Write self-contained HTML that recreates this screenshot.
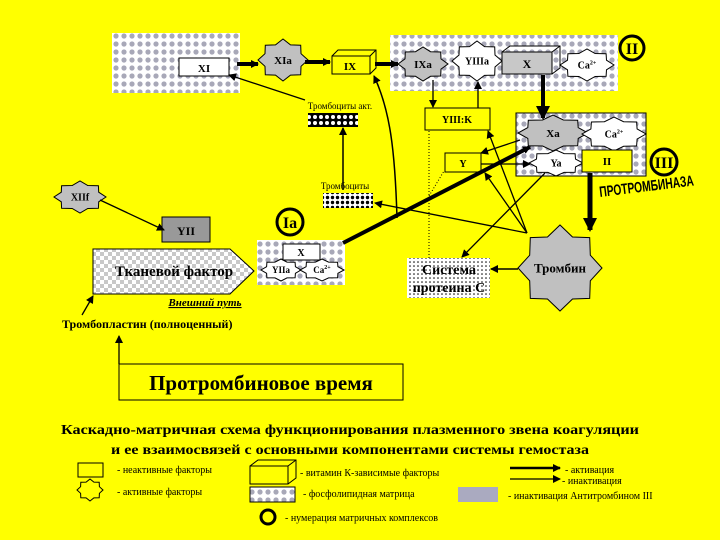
<!DOCTYPE html>
<html><head><meta charset="utf-8"><style>
html,body{margin:0;padding:0;background:#ffff00;}
svg{display:block;font-family:"Liberation Serif",serif;}
</style></head><body>
<svg id="s" width="720" height="540" viewBox="0 0 720 540" xmlns="http://www.w3.org/2000/svg">
<defs>
<pattern id="dots" width="8" height="8" patternUnits="userSpaceOnUse"><rect width="8" height="8" fill="#fff"/><circle cx="4" cy="4" r="2.6" fill="#a8a8b8"/></pattern>
<pattern id="dark" width="6" height="6" patternUnits="userSpaceOnUse"><rect width="6" height="6" fill="#000"/><circle cx="3" cy="3" r="2" fill="#fff"/></pattern>
<pattern id="dark2" width="5" height="5" patternUnits="userSpaceOnUse"><rect width="5" height="5" fill="#fff"/><circle cx="2.5" cy="2.5" r="1.7" fill="#000"/></pattern>
<pattern id="chk" width="8" height="8" patternUnits="userSpaceOnUse"><rect width="8" height="8" fill="#fff"/><rect width="4" height="4" fill="#c8c8c8"/><rect x="4" y="4" width="4" height="4" fill="#c8c8c8"/></pattern>
<pattern id="sdot" width="4" height="4" patternUnits="userSpaceOnUse"><rect width="4" height="4" fill="#fff"/><circle cx="2" cy="2" r="0.8" fill="#000"/></pattern>
<marker id="a" markerWidth="8" markerHeight="8" refX="7" refY="4" orient="auto" markerUnits="userSpaceOnUse"><path d="M0,0 L8,4 L0,8z" fill="#000"/></marker>
<marker id="A" markerWidth="14" markerHeight="14" refX="12" refY="7" orient="auto" markerUnits="userSpaceOnUse"><path d="M0,0 L14,7 L0,14z" fill="#000"/></marker>
</defs>
<rect width="720" height="540" fill="#ffff00"/>

<!-- matrices -->
<rect x="112" y="33" width="128" height="60" fill="url(#dots)"/>
<rect x="390" y="35" width="228" height="56" fill="url(#dots)"/>
<rect x="516" y="113" width="130" height="63" fill="url(#dots)" stroke="#000"/>
<rect x="257" y="240" width="88" height="45" fill="url(#dots)"/>

<g id="stars"></g>

<!-- boxes -->
<rect x="179" y="58" width="50" height="18" fill="#fff" stroke="#000"/>
<text x="204" y="72" text-anchor="middle" font-size="11" font-weight="bold">XI</text>
<!-- IX 3D -->
<g fill="none" stroke="#000">
<rect x="332" y="56" width="38" height="18" fill="#ffff00"/><path d="M332,56 l6,-6 h38 v18 l-6,6 M370,56 l6,-6"/>
</g>
<text x="350" y="70" text-anchor="middle" font-size="11" font-weight="bold">IX</text>
<!-- X 3D -->
<g fill="none" stroke="#000">
<rect x="502" y="52" width="50" height="22" fill="#c8c8c8"/><path d="M502,52 l8,-6 h50 v22 l-8,6 M552,52 l8,-6"/>
</g>
<text x="527" y="68" text-anchor="middle" font-size="12" font-weight="bold">X</text>

<circle cx="632" cy="48" r="12" fill="none" stroke="#000" stroke-width="3"/>
<text x="632" y="54" text-anchor="middle" font-size="16" font-weight="bold">II</text>

<text x="340" y="109" text-anchor="middle" font-size="9">Тромбоциты акт.</text>
<rect x="308" y="113" width="50" height="14" fill="url(#dark)"/>
<text x="345" y="189" text-anchor="middle" font-size="9">Тромбоциты</text>
<rect x="323" y="193" width="50" height="15" fill="url(#dark2)"/>

<rect x="425" y="108" width="65" height="22" fill="#ffff00" stroke="#000"/>
<text x="457" y="123" text-anchor="middle" font-size="10" font-weight="bold">YIII:K</text>
<rect x="445" y="153" width="36" height="19" fill="#ffff00" stroke="#000"/>
<text x="463" y="167" text-anchor="middle" font-size="10" font-weight="bold">Y</text>

<rect x="582" y="150" width="50" height="22" fill="#ffff00" stroke="#000"/>
<text x="607" y="165" text-anchor="middle" font-size="11" font-weight="bold">II</text>
<circle cx="664" cy="162" r="13" fill="none" stroke="#000" stroke-width="3"/>
<text x="664" y="168" text-anchor="middle" font-size="16" font-weight="bold">III</text>
<text x="600" y="197" font-family="Liberation Sans,sans-serif" font-size="15" font-weight="bold" transform="rotate(-7 600 197)" textLength="95" lengthAdjust="spacingAndGlyphs">ПРОТРОМБИНАЗА</text>

<rect x="162" y="217" width="48" height="25" fill="#999" stroke="#000"/>
<text x="186" y="235" text-anchor="middle" font-size="12" font-weight="bold">YII</text>
<circle cx="290" cy="222" r="13" fill="none" stroke="#000" stroke-width="3"/>
<text x="290" y="228" text-anchor="middle" font-size="16" font-weight="bold">Ia</text>
<rect x="283" y="244" width="37" height="16" fill="#fff" stroke="#000"/>
<text x="301" y="256" text-anchor="middle" font-size="10" font-weight="bold">X</text>

<path d="M93,249 H230 L254,271 L230,294 H93z" fill="url(#chk)" stroke="#000"/>
<text x="174" y="276" text-anchor="middle" font-size="15" font-weight="bold">Тканевой фактор</text>
<text x="205" y="306" text-anchor="middle" font-size="11" font-weight="bold" font-style="italic" text-decoration="underline">Внешний путь</text>
<text x="62" y="328" font-size="12" font-weight="bold">Тромбопластин (полноценный)</text>

<rect x="407" y="258" width="83" height="40" fill="url(#sdot)"/>
<text x="449" y="274" text-anchor="middle" font-size="14" font-weight="bold">Система</text>
<text x="449" y="292" text-anchor="middle" font-size="14" font-weight="bold">протеина С</text>

<rect x="119" y="364" width="284" height="36" fill="#ffff00" stroke="#000"/>
<text x="261" y="390" text-anchor="middle" font-size="21" font-weight="bold">Протромбиновое время</text>

<!-- connectors -->
<g stroke="#000" fill="none">
<line x1="237" y1="64" x2="258" y2="64" stroke-width="4" marker-end="url(#a)"/>
<line x1="305" y1="62" x2="330" y2="62" stroke-width="4" marker-end="url(#a)"/>
<line x1="375" y1="64" x2="398" y2="64" stroke-width="4" marker-end="url(#a)"/>
<line x1="305" y1="100" x2="229" y2="75" stroke-width="1.3" marker-end="url(#a)"/>
<line x1="343" y1="190" x2="343" y2="128" stroke-width="1.5" marker-end="url(#a)"/>
<path d="M397,218 C395,150 390,110 374,76" stroke-width="1.5" marker-end="url(#a)"/>
<line x1="433" y1="80" x2="433" y2="107" stroke-width="1.3" marker-end="url(#a)"/>
<line x1="478" y1="108" x2="478" y2="82" stroke-width="1.3" marker-end="url(#a)"/>
<line x1="543" y1="75" x2="543" y2="118" stroke-width="4" marker-end="url(#A)"/>
<line x1="520" y1="140" x2="481" y2="153" stroke-width="1.3" marker-end="url(#a)"/>
<line x1="481" y1="164" x2="530" y2="164" stroke-width="1.3" marker-end="url(#a)"/>
<line x1="545" y1="173" x2="462" y2="257" stroke-width="1.3" marker-end="url(#a)"/>
<line x1="527" y1="233" x2="488" y2="131" stroke-width="1.3" marker-end="url(#a)"/>
<line x1="527" y1="233" x2="485" y2="173" stroke-width="1.3" marker-end="url(#a)"/>
<line x1="527" y1="233" x2="375" y2="203" stroke-width="1.3" marker-end="url(#a)"/>
<line x1="518" y1="269" x2="491" y2="269" stroke-width="1.5" marker-end="url(#a)"/>
<line x1="343" y1="243" x2="530" y2="147" stroke-width="4" marker-end="url(#a)"/>
<line x1="590" y1="173" x2="590" y2="230" stroke-width="5" marker-end="url(#A)"/>
<path d="M429,258 V131 M429,196 L444,171" stroke-width="1" stroke-dasharray="1,2"/>
<line x1="100" y1="200" x2="164" y2="230" stroke-width="1.3" marker-end="url(#a)"/>
<line x1="82" y1="315" x2="93" y2="296" stroke-width="1.3" marker-end="url(#a)"/>
<line x1="119" y1="364" x2="119" y2="336" stroke-width="1.3" marker-end="url(#a)"/>
</g>

<!-- titles -->
<text x="350" y="434" text-anchor="middle" font-size="14" font-weight="bold" textLength="578" lengthAdjust="spacingAndGlyphs">Каскадно-матричная схема функционирования плазменного звена коагуляции</text>
<text x="350" y="454" text-anchor="middle" font-size="14" font-weight="bold" textLength="478" lengthAdjust="spacingAndGlyphs">и ее взаимосвязей с основными компонентами системы гемостаза</text>

<!-- legend -->
<rect x="78" y="463" width="25" height="14" fill="#ffff00" stroke="#000"/>
<text x="117" y="473" font-size="10">- неактивные факторы</text>
<text x="117" y="495" font-size="10">- активные факторы</text>
<g fill="none" stroke="#000"><rect x="250" y="466" width="38" height="18"/><path d="M250,466 l8,-6 h38 v18 l-8,6 M288,466 l8,-6"/></g>
<text x="300" y="476" font-size="10">- витамин К-зависимые факторы</text>
<rect x="250" y="487" width="45" height="15" fill="url(#dots)" stroke="#000"/>
<text x="303" y="497" font-size="10">- фосфолипидная матрица</text>
<rect x="458" y="487" width="40" height="15" fill="#aaaac0"/>
<g stroke="#000"><line x1="510" y1="468" x2="560" y2="468" stroke-width="2.5" marker-end="url(#a)"/><line x1="510" y1="479" x2="560" y2="479" stroke-width="1.3" marker-end="url(#a)"/></g>
<text x="565" y="473" font-size="10">- активация</text>
<text x="562" y="484" font-size="10">- инактивация</text>
<text x="508" y="499" font-size="10">- инактивация Антитромбином III</text>
<circle cx="268" cy="517" r="7" fill="none" stroke="#000" stroke-width="3"/>
<text x="285" y="521" font-size="10">- нумерация матричных комплексов</text>
</svg>
<script>
(function(){
var g=document.getElementById('stars'),NS='http://www.w3.org/2000/svg';
function star(cx,cy,rx,ry,fill,label,fs,tx){
 var p=[];for(var i=0;i<16;i++){var a=Math.PI*i/8,r=(i%2)?0.78:1;p.push((cx+rx*r*Math.cos(a)).toFixed(1)+','+(cy+ry*r*Math.sin(a)).toFixed(1));}
 var e=document.createElementNS(NS,'polygon');e.setAttribute('points',p.join(' '));e.setAttribute('fill',fill);e.setAttribute('stroke','#000');g.appendChild(e);
 if(label){var t=document.createElementNS(NS,'text');t.setAttribute('x',cx);t.setAttribute('y',cy+fs*0.35);t.setAttribute('text-anchor','middle');t.setAttribute('font-size',fs);t.setAttribute('font-weight','bold');t.innerHTML=label;g.appendChild(t);}
}
star(283,60,25,21,'#c0c0c0','XIa',11);
star(423,64,25,17,'#c0c0c0','IXa',11);
star(477,61,25,20,'#fff','YIIIa',10);
star(587,65,27,16,'#fff','Ca<tspan font-size="6" dy="-4">2+</tspan>',10);
star(553,133,35,18,'#c0c0c0','Xa',11);
star(614,134,32,17,'#fff','Ca<tspan font-size="6" dy="-4">2+</tspan>',10);
star(556,163,27,13,'#fff','Ya',10);
star(560,268,42,43,'#c0c0c0','Тромбин',13);
star(80,197,26,16,'#c0c0c0','XIIf',10);
star(281,270,20,11,'#fff','YIIa',9);
star(322,270,22,11,'#fff','Ca<tspan font-size="6" dy="-4">2+</tspan>',9);
star(90,490,13,11,'#ffff00','',10);
// keep stars beneath boxes: move group after matrices already
})();
</script>
</body></html>
